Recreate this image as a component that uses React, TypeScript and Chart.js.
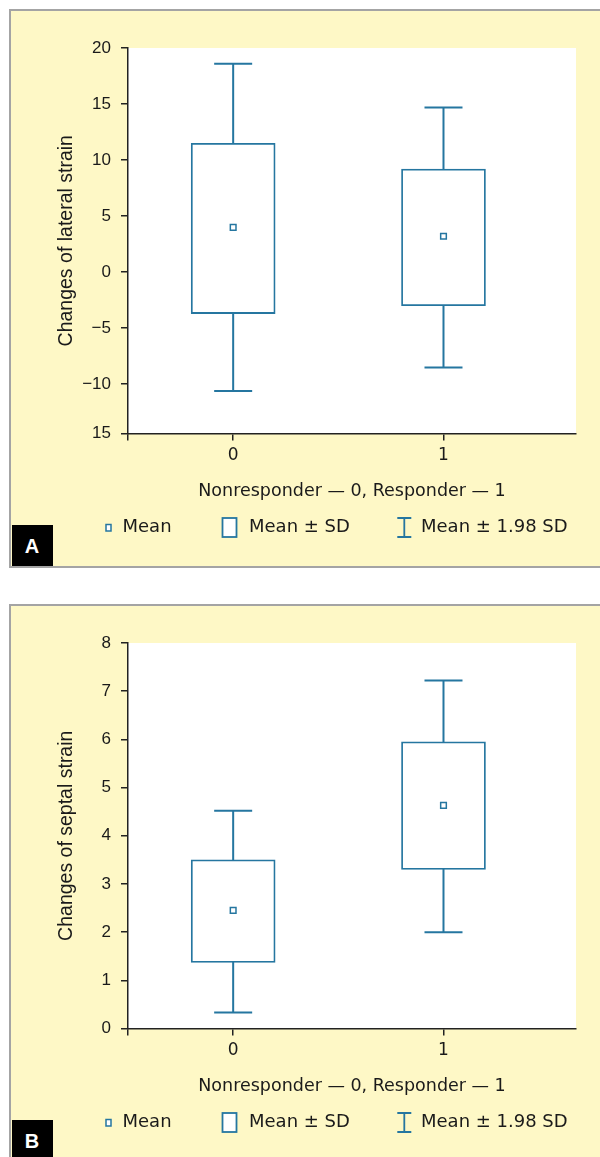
import React, { useEffect, useRef } from 'react';
import { Chart, registerables } from 'chart.js';

Chart.register(...registerables);

// ---------- data ----------
const groupPositions = [0, 1];
const groupLabels = ['0', '1'];
const xTickValues = [-0.5, 0, 1];
const xMin = -0.5;
const xMax = 1.63;

const lateralMean = [4.0, 3.2];
const lateralSdLow = [-3.7, -3.0];
const lateralSdHigh = [11.5, 9.2];
const lateralLimitLow = [-10.6, -8.5];
const lateralLimitHigh = [18.6, 14.7];
const lateralTickValues = [20, 15, 10, 5, 0, -5, -10, -14.4];
const lateralTickLabels = ['20', '15', '10', '5', '0', '\u22125', '\u221210', '15'];

const septalMean = [2.45, 4.63];
const septalSdLow = [1.37, 3.3];
const septalSdHigh = [3.5, 5.95];
const septalLimitLow = [0.33, 2.0];
const septalLimitHigh = [4.52, 7.22];
const septalTickValues = [8, 7, 6, 5, 4, 3, 2, 1, 0];
const septalTickLabels = ['8', '7', '6', '5', '4', '3', '2', '1', '0'];

const xTitle = 'Nonresponder \u2014 0, Responder \u2014 1';
const legendLabels = ['Mean', 'Mean \u00b1 SD', 'Mean \u00b1 1.98 SD'];

// ---------- styles ----------
const TEAL = '#2576a0';
const AXIS = '#222222';
const TEXT = '#1a1a1a';
const YELLOW = '#fef8c6';
const BORDER = '#a4a4a4';
const SANS = '"Liberation Sans", Arial, sans-serif';
const DEJAVU = '"DejaVu Sans", sans-serif';

const CANVAS_W = 589;
const CANVAS_H = 555;

const whiteArea = {
  id: 'whiteArea',
  beforeDraw(chart: any) {
    const { ctx, chartArea } = chart;
    ctx.save();
    ctx.fillStyle = '#ffffff';
    ctx.fillRect(chartArea.left, chartArea.top, chartArea.right - chartArea.left, chartArea.bottom - chartArea.top);
    ctx.restore();
  },
};

const customLegend = {
  id: 'customLegend',
  afterDraw(chart: any) {
    const ctx = chart.ctx;
    const y = 516.5;
    ctx.save();
    ctx.strokeStyle = TEAL;
    ctx.fillStyle = '#ffffff';
    // mean marker
    ctx.lineWidth = 1.5;
    ctx.fillRect(95, y - 3, 5, 6.5);
    ctx.strokeRect(95, y - 3, 5, 6.5);
    // box
    ctx.lineWidth = 1.8;
    ctx.fillRect(211.5, y - 9.5, 14, 19);
    ctx.strokeRect(211.5, y - 9.5, 14, 19);
    // I-beam
    ctx.beginPath();
    ctx.moveTo(393.3, y - 9.5);
    ctx.lineTo(393.3, y + 9.5);
    ctx.moveTo(386.3, y - 9.5);
    ctx.lineTo(400.3, y - 9.5);
    ctx.moveTo(386.3, y + 9.5);
    ctx.lineTo(400.3, y + 9.5);
    ctx.stroke();
    // texts
    ctx.fillStyle = TEXT;
    ctx.font = `18px ${DEJAVU}`;
    ctx.textBaseline = 'middle';
    ctx.textAlign = 'left';
    ctx.fillText(legendLabels[0], 111.5, y);
    ctx.fillText(legendLabels[1], 238, y);
    ctx.fillText(legendLabels[2], 410, y);
    ctx.restore();
  },
};

type Spec = {
  mean: number[];
  sdLow: number[];
  sdHigh: number[];
  limLow: number[];
  limHigh: number[];
  tickValues: number[];
  tickLabels: string[];
  yTitle: string;
};

function makeConfig(s: Spec): any {
  const yMin = Math.min(...s.tickValues);
  const yMax = Math.max(...s.tickValues);
  const whiskers = groupPositions.map((x, i) => ({
    type: 'line',
    data: [
      { x, y: s.limLow[i] },
      { x, y: s.limHigh[i] },
    ],
    borderColor: TEAL,
    borderWidth: 2,
    pointRadius: 0,
    fill: false,
    order: 3,
  }));
  return {
    type: 'bar',
    data: {
      datasets: [
        ...whiskers,
        {
          type: 'line',
          showLine: false,
          data: groupPositions.flatMap((x, i) => [
            { x, y: s.limLow[i] },
            { x, y: s.limHigh[i] },
          ]),
          pointStyle: 'line',
          pointRadius: 19,
          pointBorderWidth: 2,
          pointBorderColor: TEAL,
          borderColor: TEAL,
          order: 2,
        },
        {
          type: 'bar',
          data: groupPositions.map((x, i) => ({ x, y: [s.sdLow[i], s.sdHigh[i]] })),
          backgroundColor: '#ffffff',
          borderColor: TEAL,
          borderWidth: 1.8,
          borderSkipped: false,
          barThickness: 84,
          order: 1,
        },
        {
          type: 'line',
          showLine: false,
          data: groupPositions.map((x, i) => ({ x, y: s.mean[i] })),
          pointStyle: 'rect',
          pointRadius: 4,
          pointBorderWidth: 1.5,
          pointBorderColor: TEAL,
          pointBackgroundColor: '#ffffff',
          order: 0,
        },
      ],
    },
    options: {
      responsive: false,
      maintainAspectRatio: false,
      animation: false,
      events: [],
      layout: { padding: { top: 37, right: 24, left: 0, bottom: 0 } },
      plugins: { legend: { display: false }, tooltip: { enabled: false } },
      scales: {
        x: {
          type: 'linear',
          min: xMin,
          max: xMax,
          offset: false,
          afterBuildTicks: (sc: any) => {
            sc.ticks = xTickValues.map((v) => ({ value: v }));
          },
          afterFit: (sc: any) => {
            sc.height = CANVAS_H - 422.5;
          },
          grid: { offset: false, drawOnChartArea: false, drawTicks: true, tickLength: 7, color: AXIS, lineWidth: 1.5 },
          border: { display: true, color: AXIS, width: 1.5 },
          ticks: {
            autoSkip: false,
            maxRotation: 0,
            padding: 5,
            color: TEXT,
            font: { family: DEJAVU, size: 17 },
            callback: (v: any) => {
              const i = groupPositions.indexOf(v);
              return i < 0 ? '' : groupLabels[i];
            },
          },
          title: {
            display: true,
            text: xTitle,
            color: TEXT,
            font: { family: DEJAVU, size: 17.5 },
            padding: { top: 0, bottom: 64.5 },
          },
        },
        y: {
          type: 'linear',
          min: yMin,
          max: yMax,
          afterBuildTicks: (sc: any) => {
            sc.ticks = [...s.tickValues].sort((a, b) => a - b).map((v) => ({ value: v }));
          },
          afterFit: (sc: any) => {
            sc.width = 117;
          },
          grid: { drawOnChartArea: false, drawTicks: true, tickLength: 7, color: AXIS, lineWidth: 1.5 },
          border: { display: true, color: AXIS, width: 1.5 },
          ticks: {
            autoSkip: false,
            padding: 10,
            color: TEXT,
            font: { family: SANS, size: 17 },
            callback: (v: any) => {
              const i = s.tickValues.indexOf(v);
              return i < 0 ? '' : s.tickLabels[i];
            },
          },
          title: {
            display: true,
            text: s.yTitle,
            color: TEXT,
            font: { family: SANS, size: 19.5 },
            padding: { top: 44.3, bottom: 0 },
          },
        },
      },
    },
    plugins: [whiteArea, customLegend],
  };
}

function Panel({ top, spec, badge }: { top: number; spec: Spec; badge: string }) {
  const ref = useRef<HTMLCanvasElement | null>(null);
  useEffect(() => {
    if (!ref.current) return;
    const chart = new Chart(ref.current, makeConfig(spec));
    return () => chart.destroy();
  }, []);
  return (
    <div
      style={{
        position: 'absolute',
        left: 9,
        top,
        width: 600,
        height: CANVAS_H,
        background: YELLOW,
        borderLeft: `2px solid ${BORDER}`,
        borderTop: `2px solid ${BORDER}`,
        borderBottom: `2px solid ${BORDER}`,
      }}
    >
      <canvas
        ref={ref}
        width={CANVAS_W}
        height={CANVAS_H}
        style={{ position: 'absolute', left: 0, top: 0, width: CANVAS_W, height: CANVAS_H }}
      />
      <div
        style={{
          position: 'absolute',
          left: 0.5,
          top: 514,
          width: 41,
          height: 41,
          background: '#000',
          color: '#fff',
          fontFamily: SANS,
          fontWeight: 'bold',
          fontSize: 20,
          display: 'flex',
          alignItems: 'center',
          justifyContent: 'center',
          lineHeight: 1,
        }}
      >
        {badge}
      </div>
    </div>
  );
}

export default function App() {
  const lateral: Spec = {
    mean: lateralMean,
    sdLow: lateralSdLow,
    sdHigh: lateralSdHigh,
    limLow: lateralLimitLow,
    limHigh: lateralLimitHigh,
    tickValues: lateralTickValues,
    tickLabels: lateralTickLabels,
    yTitle: 'Changes of lateral strain',
  };
  const septal: Spec = {
    mean: septalMean,
    sdLow: septalSdLow,
    sdHigh: septalSdHigh,
    limLow: septalLimitLow,
    limHigh: septalLimitHigh,
    tickValues: septalTickValues,
    tickLabels: septalTickLabels,
    yTitle: 'Changes of septal strain',
  };
  return (
    <div style={{ position: 'absolute', left: 0, top: 0, width: 600, height: 1157, overflow: 'hidden', background: '#fff' }}>
      <Panel top={9} spec={lateral} badge="A" />
      <Panel top={604} spec={septal} badge="B" />
    </div>
  );
}
